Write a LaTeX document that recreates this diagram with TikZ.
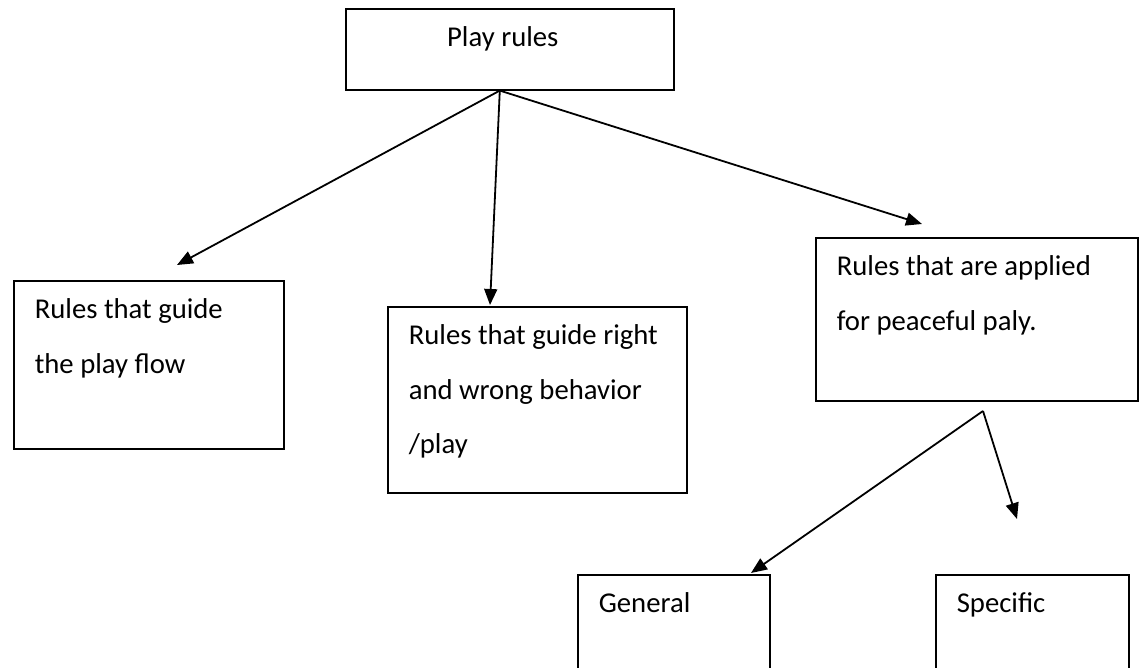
\documentclass[tikz,border=0pt]{standalone}
\usepackage{fontspec}
\setmainfont{Carlito}
\usepackage{tikz}
\usetikzlibrary{arrows.meta}
\newcommand{\boxtext}[3]{\parbox[t][#2][t]{#1}{\raggedright\leftskip=21pt\strut #3}}

\begin{document}
\begin{tikzpicture}[x=1pt,y=-1pt,
    box/.style={draw,line width=1.6pt,inner sep=0pt,anchor=north west,font=\fontsize{28.7}{54.5}\selectfont},
    arr/.style={line width=1.8pt,-{Triangle[length=16pt,width=13pt]}}]
  \path[use as bounding box,clip] (0,0) rectangle (1144,668);
  \fill[white] (0,0) rectangle (1144,668);

  \node[box](play) at (345,8)
    {\parbox[t][81pt][t]{328pt}{\centering\strut Play rules\hspace*{14pt}}};
  \node[box](flow) at (13,280) {\boxtext{270pt}{168pt}{Rules that guide\\the play flow}};
  \node[box](behav) at (387,306) {\boxtext{299pt}{186pt}{Rules that guide right\\and wrong behavior\\/play}};
  \node[box](peace) at (815,237) {\boxtext{322pt}{163pt}{Rules that are applied\\for peaceful paly.}};
  \node[box](general) at (577,574) {\boxtext{192pt}{110pt}{General}};
  \node[box](specific) at (935,574) {\boxtext{193pt}{110pt}{Specific}};

  % free ends of the arrows
  \coordinate (flowtip) at (177,265);
  \coordinate (behavtip) at (490,305);
  \coordinate (peacetip) at (922,224);
  \coordinate (split) at (983,411);
  \coordinate (gentip) at (751,573);
  \coordinate (spectip) at (1017,519);

  \draw[arr] ([xshift=-10pt]play.south) -- (flowtip);
  \draw[arr] ([xshift=-10pt]play.south) -- (behavtip);
  \draw[arr] ([xshift=-10pt]play.south) -- (peacetip);
  \draw[arr] (split) -- (gentip);
  \draw[arr] (split) -- (spectip);
\end{tikzpicture}
\end{document}
